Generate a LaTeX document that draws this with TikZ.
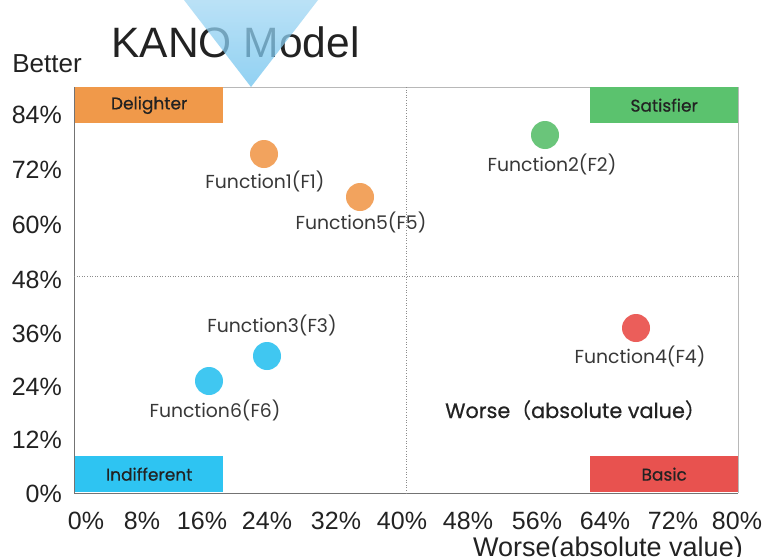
\documentclass[tikz,border=0pt]{standalone}
\usepackage{fontspec}
\setmainfont{Poppins}
\newfontfamily\axisfont{Liberation Sans}
\newfontfamily\fnfont{Poppins}
\newfontfamily\medfont[FakeBold=0.6]{Poppins}
\newfontfamily\cjkfont[FakeBold=0.6]{Noto Sans CJK SC}
\definecolor{delight}{HTML}{F0994A}
\definecolor{delightdot}{HTML}{F2A35E}
\definecolor{satisfy}{HTML}{5BC26E}
\definecolor{satisfydot}{HTML}{6AC57A}
\definecolor{indiff}{HTML}{2EC4F2}
\definecolor{indiffdot}{HTML}{40C7F1}
\definecolor{basic}{HTML}{E8524F}
\definecolor{basicdot}{HTML}{EB5E5A}
\definecolor{funneltop}{HTML}{A4D8F4}
\definecolor{funnelbot}{HTML}{6DC2EE}
\definecolor{ink}{HTML}{222222}
\begin{document}
\begin{tikzpicture}[x=1pt,y=-1pt,
  tick/.style={font=\axisfont\fontsize{25}{25}\selectfont,text=ink,inner sep=0pt},
  quad/.style={minimum width=148pt,minimum height=36pt,inner sep=0pt,anchor=north west,
    font=\medfont\fontsize{17}{17}\selectfont,text=ink},
  dot/.style={circle,minimum size=28pt,inner sep=0pt},
  flabel/.style={font=\fnfont\fontsize{18.8}{18.8}\selectfont,text=ink!90,inner sep=0pt,anchor=base}]
\useasboundingbox (0,0) rectangle (764,557);
\fill[white] (0,0) rectangle (764,557);

% plot frame
\draw[black!28,line width=0.8pt] (74,87) -- (738,87) -- (738,493);
\draw[black!55,line width=1pt] (74,87) -- (74,493) -- (738,493);
% quadrant dividers
\draw[black!45,dotted,line width=0.6pt] (406,87) -- (406,493);
\draw[black!45,dotted,line width=0.6pt] (74,276) -- (738,276);

% quadrant tags
\node[quad,fill=delight] (delighter) at (75,87) {Delighter};
\node[quad,fill=satisfy] (satisfier) at (590,87) {Satisfier};
\node[quad,fill=indiff] (indifferent) at (75,456) {Indifferent};
\node[quad,fill=basic] (basicq) at (590,456) {Basic};

% y axis
\node[tick,anchor=base,font=\axisfont\fontsize{26}{26}\selectfont] (better) at (47,72) {Better};
\foreach \v/\y in {84/123,72/178,60/233,48/288,36/342,24/395,12/448,0/502}
  \node[tick,anchor=base east] (y\v) at (62,\y) {\v\%};

% x axis
\foreach \v/\x in {0/86,8/142,16/202,24/267,32/336,40/402,48/468,56/537,64/605,72/673,80/737}
  \node[tick,anchor=base] (x\v) at (\x,529) {\v\%};
\node[tick,anchor=base,font=\axisfont\fontsize{27}{27}\selectfont] (xtitle) at (608,556) {Worse(absolute value)};

% functions
\node[dot,fill=delightdot] (f1) at (264,154) {};
\node[flabel] (f1l) at (265,188) {Function1(F1)};
\node[dot,fill=delightdot] (f5) at (360,197) {};
\node[flabel] (f5l) at (361,229) {Function5(F5)};
\node[dot,fill=satisfydot] (f2) at (545,135) {};
\node[flabel] (f2l) at (552,171) {Function2(F2)};
\node[dot,fill=basicdot] (f4) at (636,328) {};
\node[flabel] (f4l) at (640,363) {Function4(F4)};
\node[dot,fill=indiffdot] (f3) at (267,356) {};
\node[flabel] (f3l) at (272,332) {Function3(F3)};
\node[dot,fill=indiffdot] (f6) at (209,381) {};
\node[flabel] (f6l) at (215,417) {Function6(F6)};

\node[font=\medfont\fontsize{20.8}{20.8}\selectfont,text=ink,inner sep=0pt,anchor=base west] (worse) at (445,418)
  {Worse{\cjkfont （}absolute value{\cjkfont ）}};

% title with the funnel marker over it
\node[font=\axisfont\fontsize{42.5}{42.5}\selectfont,text=ink,inner sep=0pt,anchor=base] (title) at (235.5,57) {KANO Model};
\shade[top color=funneltop,bottom color=funnelbot,opacity=0.75] (184,0) -- (318,0) -- (251,87) -- cycle;
\end{tikzpicture}
\end{document}
